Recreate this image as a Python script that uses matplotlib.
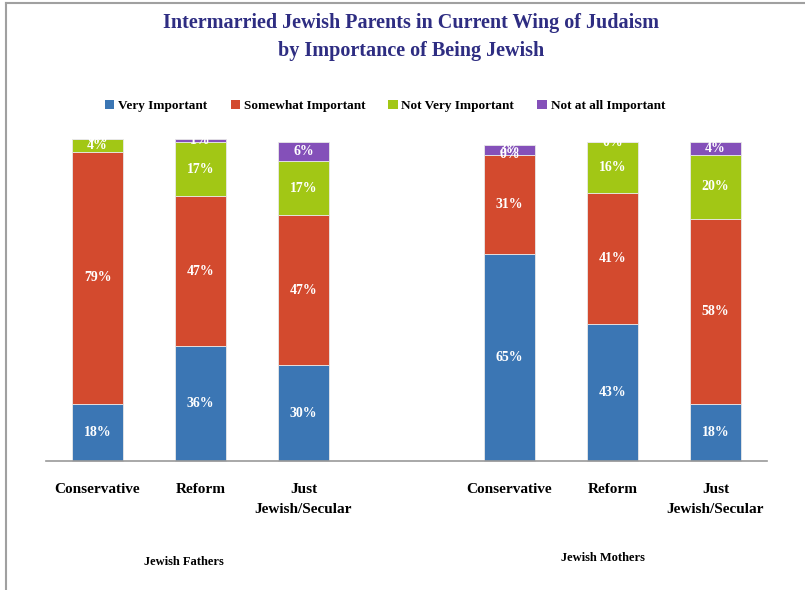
import matplotlib
matplotlib.use('Agg')
import matplotlib.pyplot as plt
from matplotlib.lines import Line2D
from matplotlib.patches import Patch

# Share of parents (%) by importance of being Jewish
wings = ["Conservative", "Reform", "Just\nJewish/Secular"]
groups = ["Jewish Fathers", "Jewish Mothers"]
levels = ["Very Important", "Somewhat Important", "Not Very Important", "Not at all Important"]
colors = ['#3B76B4', '#D34A2E', '#A2C715', '#8450B9']

fathers_very = [18, 36, 30]
fathers_somewhat = [79, 47, 47]
fathers_not_very = [4, 17, 17]
fathers_not_at_all = [0, 1, 6]

mothers_very = [65, 43, 18]
mothers_somewhat = [31, 41, 58]
mothers_not_very = [0, 16, 20]
mothers_not_at_all = [3, 0, 4]

fathers = [fathers_very, fathers_somewhat, fathers_not_very, fathers_not_at_all]
mothers = [mothers_very, mothers_somewhat, mothers_not_very, mothers_not_at_all]

serif = 'Liberation Serif'

fig = plt.figure(figsize=(8.05, 5.90), dpi=100)
ax = fig.add_axes([46 / 805, 1 - 461 / 590, 721 / 805, 319 / 590])

# fathers on slots 0-2, mothers on slots 4-6 (slot 3 left empty)
positions = [[0, 1, 2], [4, 5, 6]]
for pos, series in zip(positions, [fathers, mothers]):
    bottoms = [0, 0, 0]
    for vals, color in zip(series, colors):
        ax.bar(pos, vals, width=0.5, bottom=bottoms, color=color,
               edgecolor='#E8E8E8', linewidth=0.6, clip_on=False, zorder=2)
        for x, b, v in zip(pos, bottoms, vals):
            ax.text(x, b + v / 2, f"{v}%", ha='center', va='center', color='white',
                    fontsize=10, fontweight='bold', family=serif, zorder=3)
        bottoms = [b + v for b, v in zip(bottoms, vals)]

ax.set_xlim(-0.5, 6.5)
ax.set_ylim(0, 100)
ax.set_xticks([0, 1, 2, 4, 5, 6])
ax.set_xticklabels(wings * 2, family=serif, fontsize=11, fontweight='bold',
                   linespacing=1.65, va='top')
ax.tick_params(axis='x', length=0, pad=16)
ax.set_yticks([])
for side in ['top', 'left', 'right']:
    ax.spines[side].set_visible(False)
ax.spines['bottom'].set_color('#999999')
ax.spines['bottom'].set_linewidth(1.2)

# group labels under each set of bars
fig.text(184 / 805, 1 - 562 / 590, groups[0], ha='center', va='center',
         family=serif, fontsize=9, fontweight='bold')
fig.text(603 / 805, 1 - 558 / 590, groups[1], ha='center', va='center',
         family=serif, fontsize=9, fontweight='bold')

fig.text(411 / 805, 1 - 37 / 590,
         "Intermarried Jewish Parents in Current Wing of Judaism\nby Importance of Being Jewish",
         ha='center', va='center', family=serif, fontsize=14.5, fontweight='bold',
         color='#2E2D82', linespacing=1.55)

handles = [Patch(facecolor=c, edgecolor='none') for c in colors]
fig.legend(handles, levels, loc='center', bbox_to_anchor=(385 / 805, 1 - 106 / 590),
           ncol=4, frameon=False, prop={'family': serif, 'size': 9.5, 'weight': 'bold'},
           handlelength=0.7, handleheight=0.7, handletextpad=0.3, columnspacing=1.75)

# frame lines along top and left edge
fig.add_artist(Line2D([6 / 805, 1], [1 - 3 / 590, 1 - 3 / 590], color='#A0A0A0', lw=1.5))
fig.add_artist(Line2D([6 / 805, 6 / 805], [0, 1 - 3 / 590], color='#A0A0A0', lw=1.5))

fig.savefig('out.png', dpi=100)
